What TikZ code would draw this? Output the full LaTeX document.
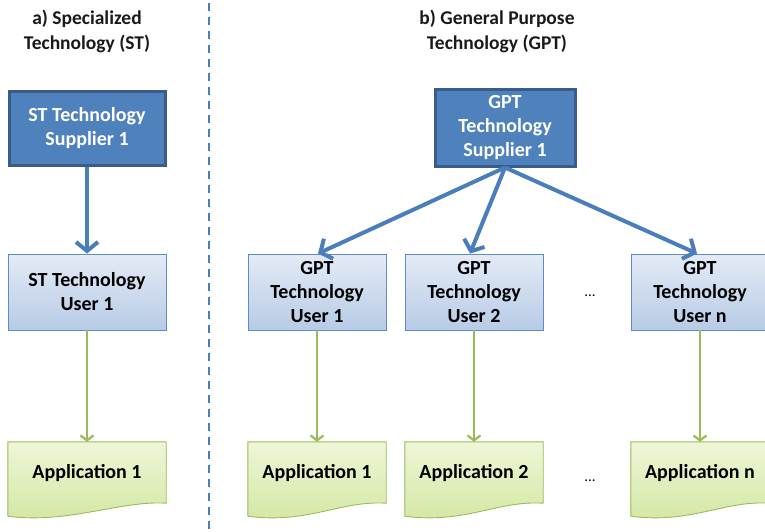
\documentclass[tikz,border=0pt]{standalone}
\usepackage{fontspec}
\setmainfont{Carlito}[BoldFont={Carlito Bold}]
\usetikzlibrary{arrows.meta,calc}

\definecolor{supfill}{HTML}{4F81BD}
\definecolor{supline}{HTML}{385D8A}
\definecolor{usertop}{HTML}{E4EBF6}
\definecolor{userbot}{HTML}{B7CBE6}
\definecolor{userline}{HTML}{5F8CC8}
\definecolor{apptop}{HTML}{EEF6D8}
\definecolor{appbot}{HTML}{D3E7A2}
\definecolor{appline}{HTML}{9BBB59}
\definecolor{flowblue}{HTML}{4A7EBB}
\definecolor{titlecol}{HTML}{1A1A1A}

\tikzset{
  x=1pt, y=-1pt,
  lbl/.style={font=\bfseries\fontsize{20}{24}\selectfont, align=center, inner sep=0pt},
  title/.style={font=\bfseries\fontsize{19.5}{25}\selectfont, align=center, text=titlecol},
  supbox/.style={lbl, draw=supline, line width=3pt, fill=supfill, text=white},
  userbox/.style={lbl, draw=userline, line width=0.9pt, top color=usertop, bottom color=userbot, text=black},
  appnode/.style={lbl, text=black},
  appshape/.style={draw=appline, line width=0.9pt, top color=apptop, bottom color=appbot},
  supflow/.style={draw=flowblue, line width=4pt,
    -{Straight Barb[length=9pt, width=22pt, line width=4pt]}},
  appflow/.style={draw=appline, line width=2.2pt,
    -{Straight Barb[length=5pt, width=13pt, line width=2.2pt]}},
  dots/.style={font=\fontsize{15}{16}\selectfont, inner sep=0pt}
}

% wavy "document" outline below a node that carries the label
\newcommand{\docshape}[1]{%
  \path[appshape] (#1.north west) -- (#1.north east) -- ($(#1.south east)+(0,-1)$)
    .. controls ($(#1.south east)+(-45,-4)$) and ($(#1.south west)+(60,20)$)
    .. ($(#1.south west)+(0,12)$) -- cycle;%
}

\begin{document}
\begin{tikzpicture}
\useasboundingbox (0,0) rectangle (765,531);

% separator between the two panels
\draw[flowblue, line width=1.1pt, dash pattern=on 8pt off 6pt] (209,3) -- (209,531);

% panel titles
\node[title] (ta) at (87,31.5) {a) Specialized\\Technology (ST)};
\node[title] (tb) at (497,31.5) {b) General Purpose\\Technology (GPT)};

% ---- specialized technology ----
\node[supbox, minimum width=156pt, minimum height=74pt] (stsup) at (87,128)
  {ST Technology\\Supplier 1};
\node[userbox, minimum width=158pt, minimum height=76pt] (stuser) at (87,292)
  {ST Technology\\User 1};
\node[appnode, minimum width=158pt, minimum height=62pt] (stapp) at (87,473) {};
\docshape{stapp}
\node[appnode] at (stapp) {Application 1};

\draw[supflow] (stsup.south) -- (stuser.north);
\draw[appflow] (stuser.south) -- (stapp.north);

% ---- general purpose technology ----
\node[supbox, minimum width=140pt, minimum height=77pt] (gsup) at (505,127.5)
  {GPT\\Technology\\Supplier 1};

\node[userbox, minimum width=138pt, minimum height=76pt] (gu1) at (317,292)
  {GPT\\Technology\\User 1};
\node[userbox, minimum width=138pt, minimum height=76pt] (gu2) at (474,292)
  {GPT\\Technology\\User 2};
\node[userbox, minimum width=138pt, minimum height=76pt] (gun) at (700,292)
  {GPT\\Technology\\User n};

\node[appnode, minimum width=138pt, minimum height=62pt] (ga1) at (317,473) {};
\node[appnode, minimum width=138pt, minimum height=62pt] (ga2) at (474,473) {};
\node[appnode, minimum width=138pt, minimum height=62pt] (gan) at (700,473) {};
\docshape{ga1}
\docshape{ga2}
\docshape{gan}
\node[appnode] at (ga1) {Application 1};
\node[appnode] at (ga2) {Application 2};
\node[appnode] at (gan) {Application n};

\node[dots] (d1) at (590,296) {...};
\node[dots] (d2) at (590,481) {...};

\draw[supflow] (gsup.south) -- ($(gu1.north)+(1,0)$);
\draw[supflow] (gsup.south) -- ($(gu2.north)+(-4,0)$);
\draw[supflow] (gsup.south) -- ($(gun.north)+(-3,0)$);

\draw[appflow] (gu1.south) -- (ga1.north);
\draw[appflow] (gu2.south) -- (ga2.north);
\draw[appflow] (gun.south) -- (gan.north);
\end{tikzpicture}
\end{document}
